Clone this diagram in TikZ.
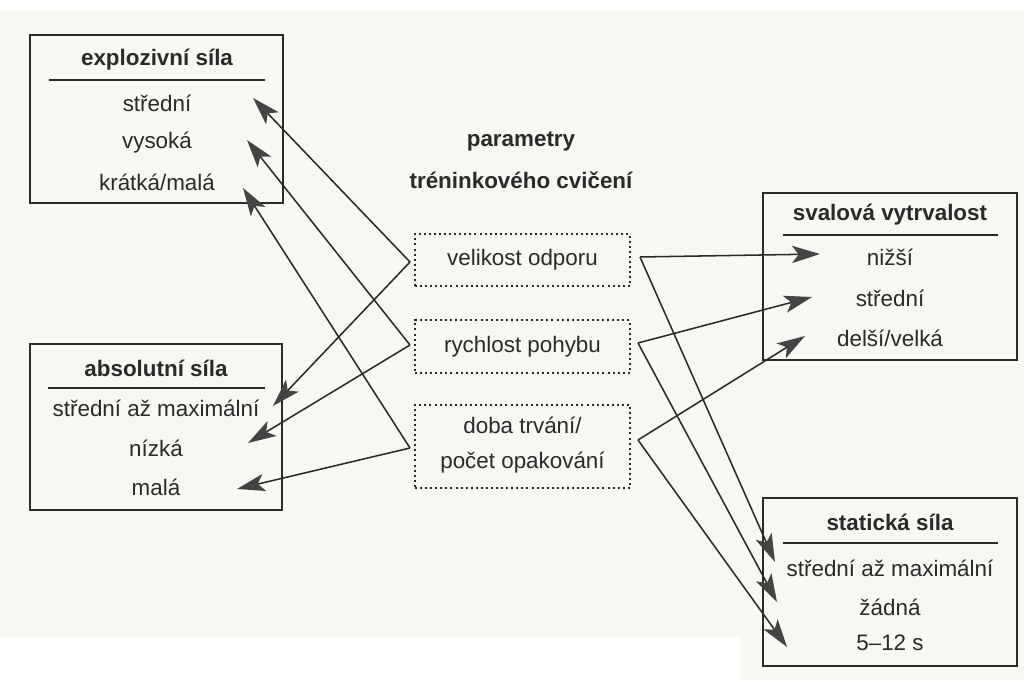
\documentclass[tikz,border=0pt]{standalone}
\usepackage{fontspec}
\setmainfont{Liberation Sans}
\usetikzlibrary{arrows.meta}
\definecolor{bg}{HTML}{F6F8F2}
\definecolor{ink}{HTML}{2A2A2A}
\definecolor{tipc}{HTML}{444444}
\begin{document}
\begin{tikzpicture}[x=0.75pt,y=-0.75pt,
  box/.style={draw=ink, line width=1.3pt, outer sep=0pt, inner sep=0pt},
  item/.style={font=\fontsize{16.8}{19}\selectfont, text=ink, inner sep=0pt},
  ttl/.style={font=\bfseries\fontsize{16.8}{19}\selectfont, text=ink, inner sep=0pt},
  param/.style={draw=ink, line width=1.7pt, dash pattern=on 1.5pt off 2.3pt, outer sep=0pt, inner sep=0pt, minimum width=161.25pt},
  rulel/.style={draw=ink, line width=1.2pt},
  conn/.style={draw=ink, line width=1.15pt, -{Stealth[length=21pt, width=13pt, inset=5pt, color=tipc]}}
]
\useasboundingbox (0,0) rectangle (1024,680);
\fill[bg] (0,0) rectangle (1024,680);
\fill[white] (0,0) rectangle (1024,11);
\fill[white] (0,637) rectangle (740,680);

% outer boxes
\node[box, minimum width=189.75pt, minimum height=126pt] (B1) at (156.5,119) {};
\node[box, minimum width=189pt, minimum height=124.5pt] (B2) at (156,427) {};
\node[box, minimum width=190.5pt, minimum height=125.25pt] (B3) at (890,276.5) {};
\node[box, minimum width=190.5pt, minimum height=126pt] (B4) at (890,582) {};

% box 1
\node[ttl] (T1) at (157,60) {explozivní síla};
\draw[rulel] (49,80) -- (265,80);
\node[item] (e1) at (157,103) {střední};
\node[item] (e2) at (157,143) {vysoká};
\node[item] (e3) at (157,182) {krátká/malá};

% box 2
\node[ttl] (T2) at (156,368) {absolutní síla};
\draw[rulel] (48,388) -- (265,388);
\node[item] (a1) at (156,408) {střední až maximální};
\node[item] (a2) at (156,448) {nízká};
\node[item] (a3) at (156,487) {malá};

% box 3
\node[ttl] (T3) at (890,215) {svalová vytrvalost};
\draw[rulel] (783,235) -- (998,235);
\node[item] (s1) at (890,257) {nižší};
\node[item] (s2) at (890,298) {střední};
\node[item] (s3) at (890,338) {delší/velká};

% box 4
\node[ttl] (T4) at (890,522) {statická síla};
\draw[rulel] (783,543) -- (998,543);
\node[item] (k1) at (890,568) {střední až maximální};
\node[item] (k2) at (890,607) {žádná};
\node[item] (k3) at (890,643) {5–12 s};

% centre
\node[ttl] (P1) at (521,142) {parametry};
\node[ttl] (P2) at (521,180) {tréninkového cvičení};
\node[param, minimum height=39pt] (D1) at (522.5,260) {};
\node[item] at (D1) {velikost odporu};
\node[param, minimum height=39.75pt] (D2) at (522.5,346.5) {};
\node[item] at (D2) {rychlost pohybu};
\node[param, minimum height=62.25pt] (D3) at (522.5,446.5) {};
\node[item] (d3a) at (522.5,425) {doba trvání/};
\node[item] (d3b) at (522.5,463) {počet opakování};

% vertices
\coordinate (vL1) at (410,262);
\coordinate (vL2) at (410,345);
\coordinate (vL3) at (410,448);
\coordinate (vR1) at (640,257);
\coordinate (vR2) at (638,343);
\coordinate (vR3) at (638,440);
% tips
\coordinate (t1) at (253,98);
\coordinate (t2) at (247,140);
\coordinate (t3) at (243,188);
\coordinate (t4) at (273,406);
\coordinate (t5) at (248,443);
\coordinate (t6) at (237,489);
\coordinate (t7) at (820,254);
\coordinate (t8) at (812,297);
\coordinate (t9) at (805,336);
\coordinate (t10) at (775,562);
\coordinate (t11) at (777,602);
\coordinate (t12) at (787,647);

\draw[conn] (vL1) -- (t1);
\draw[conn] (vL2) -- (t2);
\draw[conn] (vL3) -- (t3);
\draw[conn] (vL1) -- (t4);
\draw[conn] (vL2) -- (t5);
\draw[conn] (vL3) -- (t6);
\draw[conn] (vR1) -- (t7);
\draw[conn] (vR2) -- (t8);
\draw[conn] (vR3) -- (t9);
\draw[conn] (vR1) -- (t10);
\draw[conn] (vR2) -- (t11);
\draw[conn] (vR3) -- (t12);
\end{tikzpicture}
\end{document}
